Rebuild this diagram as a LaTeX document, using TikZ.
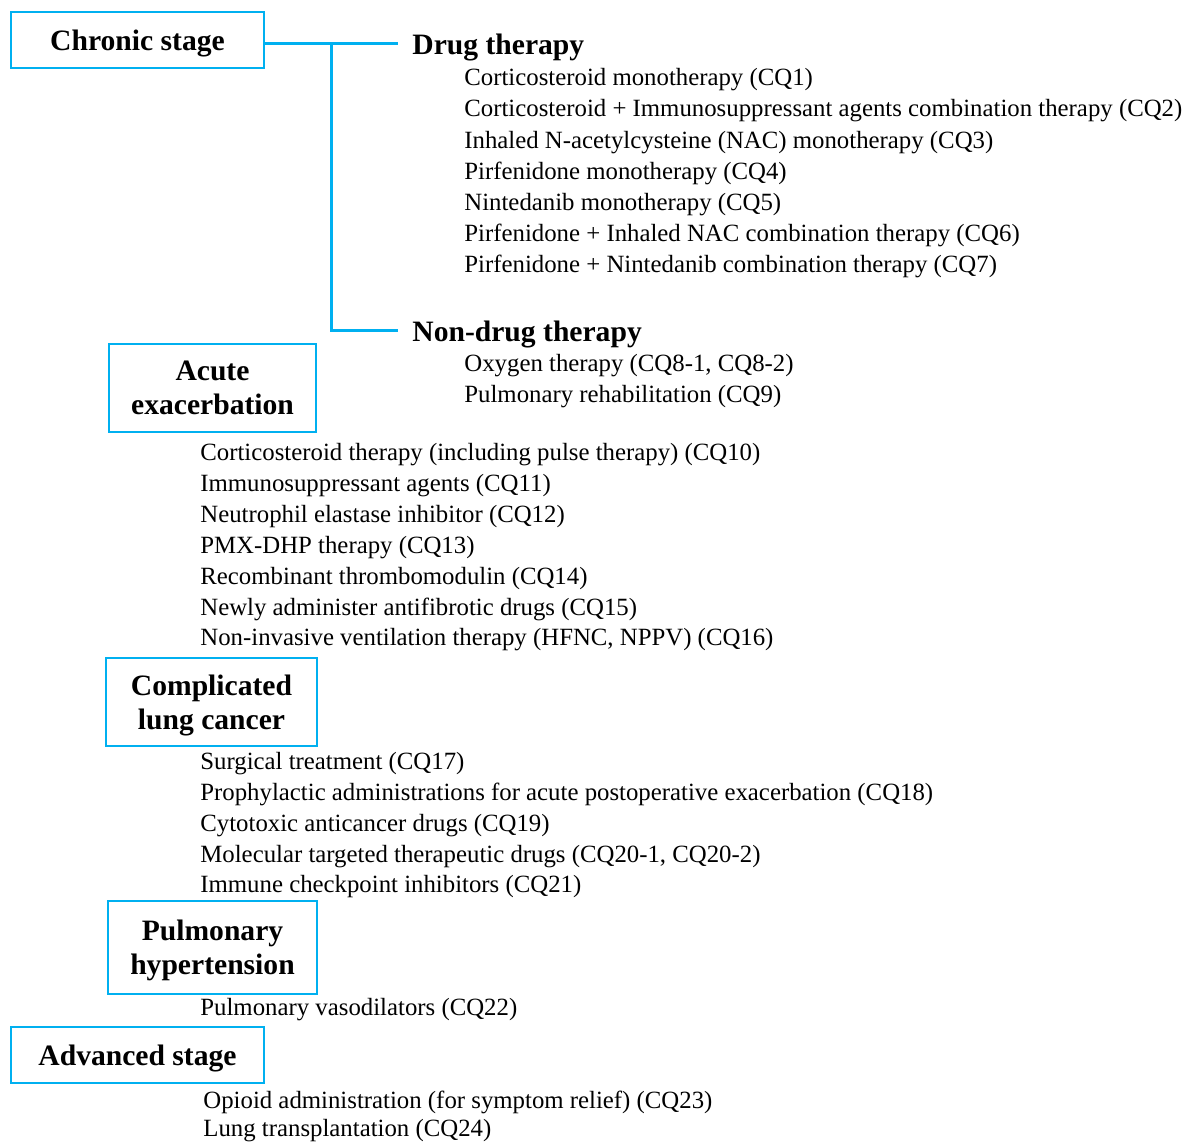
\documentclass[tikz,border=0pt]{standalone}
\usepackage{fontspec}
\setmainfont{Liberation Serif}
\usetikzlibrary{positioning,calc}
\definecolor{linkblue}{HTML}{00B0F0}
\tikzset{
  stagebox/.style={draw=linkblue, line width=1pt, font=\fontsize{14.8}{17.2}\selectfont\bfseries, inner sep=0pt},
  stagetwo/.style={stagebox, align=center, text depth=0pt},
  heading/.style={anchor=west, font=\fontsize{14.8}{17}\selectfont\bfseries, inner xsep=7pt, inner ysep=0pt, yshift=-2pt},
  item/.style={anchor=west, font=\fontsize{12.4}{14}\selectfont, inner sep=0pt, text height=0.75em, text depth=0.25em, yshift=-1.5pt},
  link/.style={draw=linkblue, line width=1.5pt}
}
\begin{document}
\begin{tikzpicture}[x=0.5pt, y=-0.5pt]
  \useasboundingbox (0,0) rectangle (1189,1141);
  % stages
  \node[stagebox, minimum width=126.5pt, minimum height=28pt, text depth=0pt] (chronic) at (137.5,40) {Chronic stage};
  \node[stagetwo, minimum width=103.5pt, minimum height=44pt] (acute) at (212.5,388) {Acute\\exacerbation};
  \node[stagetwo, minimum width=105.5pt, minimum height=44pt] (cancer) at (211.5,702) {Complicated\\lung cancer};
  \node[stagetwo, minimum width=104.5pt, minimum height=46.5pt] (ph) at (212.5,947.5) {Pulmonary\\hypertension};
  \node[stagebox, minimum width=126.5pt, minimum height=28pt, text depth=0pt] (advanced) at (137.5,1055) {Advanced stage};
  % chronic stage branches
  \node[heading] (drug) at (398,43) {Drug therapy};
  \node[heading] (nondrug) at (398,330) {Non-drug therapy};
  \coordinate (fork) at (331,43);
  \draw[link] (chronic.east |- fork) -- (fork -| drug.west);
  \draw[link] (fork) |- (nondrug.west |- 0,330);
  % drug therapy
  \node[item] (cq1) at (464,77) {Corticosteroid monotherapy (CQ1)};
  \node[item] (cq2) at (464,108) {Corticosteroid + Immunosuppressant agents combination therapy (CQ2)};
  \node[item] (cq3) at (464,140) {Inhaled N-acetylcysteine (NAC) monotherapy (CQ3)};
  \node[item] (cq4) at (464,171) {Pirfenidone monotherapy (CQ4)};
  \node[item] (cq5) at (464,202) {Nintedanib monotherapy (CQ5)};
  \node[item] (cq6) at (464,233) {Pirfenidone + Inhaled NAC combination therapy (CQ6)};
  \node[item] (cq7) at (464,264) {Pirfenidone + Nintedanib combination therapy (CQ7)};
  % non-drug therapy
  \node[item] (cq8) at (464,363) {Oxygen therapy (CQ8-1, CQ8-2)};
  \node[item] (cq9) at (464,394) {Pulmonary rehabilitation (CQ9)};
  % acute exacerbation
  \node[item] (cq10) at (200,452) {Corticosteroid therapy (including pulse therapy) (CQ10)};
  \node[item] (cq11) at (200,483) {Immunosuppressant agents (CQ11)};
  \node[item] (cq12) at (200,514) {Neutrophil elastase inhibitor (CQ12)};
  \node[item] (cq13) at (200,545) {PMX-DHP therapy (CQ13)};
  \node[item] (cq14) at (200,576) {Recombinant thrombomodulin (CQ14)};
  \node[item] (cq15) at (200,607) {Newly administer antifibrotic drugs (CQ15)};
  \node[item] (cq16) at (200,637) {Non-invasive ventilation therapy (HFNC, NPPV) (CQ16)};
  % complicated lung cancer
  \node[item] (cq17) at (200,761) {Surgical treatment (CQ17)};
  \node[item] (cq18) at (200,792) {Prophylactic administrations for acute postoperative exacerbation (CQ18)};
  \node[item] (cq19) at (200,823) {Cytotoxic anticancer drugs (CQ19)};
  \node[item] (cq20) at (200,854) {Molecular targeted therapeutic drugs (CQ20-1, CQ20-2)};
  \node[item] (cq21) at (200,884) {Immune checkpoint inhibitors (CQ21)};
  % pulmonary hypertension
  \node[item] (cq22) at (200,1007) {Pulmonary vasodilators (CQ22)};
  % advanced stage
  \node[item] (cq23) at (203,1100) {Opioid administration (for symptom relief) (CQ23)};
  \node[item] (cq24) at (203,1128) {Lung transplantation (CQ24)};
\end{tikzpicture}
\end{document}
